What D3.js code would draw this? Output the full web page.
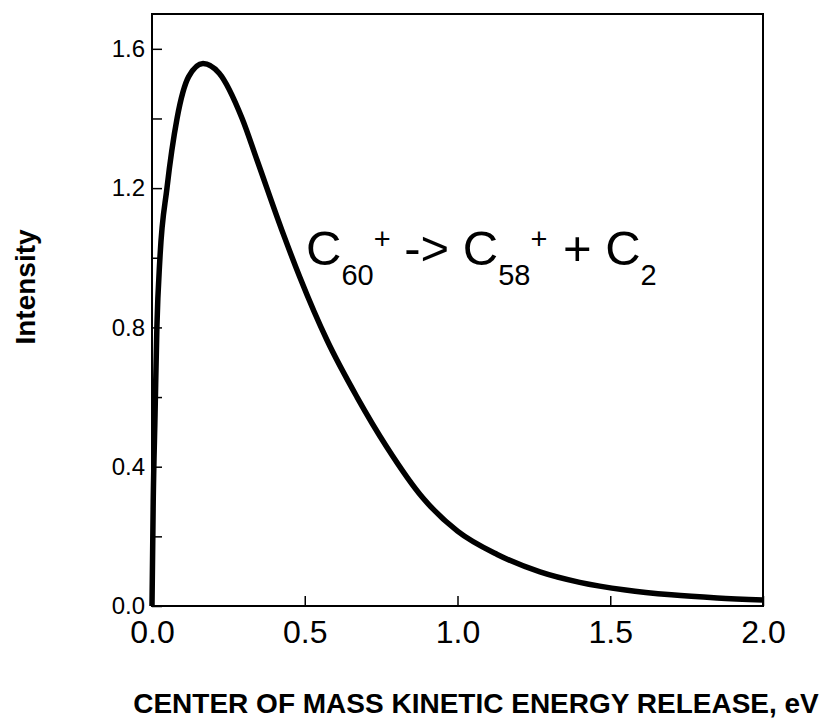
<!DOCTYPE html>
<html>
<head>
<meta charset="utf-8">
<script src="https://cdn.jsdelivr.net/npm/d3@7"></script>
<style>
    body { margin: 0; background: #fff; }
    text { font-family: "Liberation Sans", Arial, Helvetica, sans-serif; fill: #000; }
</style>
</head>
<body>
<div id="svg"></div>
<script>
// kinetic energy release (eV) and intensity
var energy = [0, 0.004, 0.010, 0.016, 0.026, 0.049, 0.082, 0.12, 0.167, 0.22, 0.295, 0.344, 0.429, 0.484,
              0.573, 0.671, 0.769, 0.887, 1.0, 1.13, 1.27, 1.4, 1.55, 1.7, 1.85, 2.0];
var intensity = [0, 0.30, 0.55, 0.80, 1.00, 1.20, 1.40, 1.52, 1.558, 1.53, 1.40, 1.28, 1.07, 0.944,
                 0.763, 0.60, 0.456, 0.31, 0.215, 0.148, 0.098, 0.068, 0.046, 0.032, 0.023, 0.017];

var xTicks = [0, 0.5, 1.0, 1.5, 2.0];
var yTicks = [0, 0.2, 0.4, 0.6, 0.8, 1.0, 1.2, 1.4, 1.6];
var yLabels = [0, 0.4, 0.8, 1.2, 1.6];

var margin = {top: 14, right: 72, bottom: 114, left: 152},
    width = 835 - margin.left - margin.right,
    height = 720 - margin.top - margin.bottom;

var svg = d3.select("#svg")
    .append("svg")
    .attr("width", 835)
    .attr("height", 720)
    .append("g")
    .attr("transform", "translate(" + margin.left + "," + margin.top + ")");

var x = d3.scaleLinear().domain([0, 2.0]).range([0, width]);
var y = d3.scaleLinear().domain([0, 1.7]).range([height, 0]);

// x axis, ticks pointing in
var xAxis = svg.append("g")
    .attr("transform", "translate(0," + height + ")")
    .call(d3.axisBottom(x).tickValues(xTicks).tickSizeInner(-10).tickSizeOuter(0).tickPadding(14)
        .tickFormat(d3.format(".1f")));
xAxis.select(".domain").remove();
xAxis.selectAll("line").attr("stroke", "#000").attr("stroke-width", 1.5);
xAxis.selectAll("text").style("font-size", "32px");

// y axis, minor ticks every 0.2, labels every 0.4
var yAxis = svg.append("g")
    .call(d3.axisLeft(y).tickValues(yTicks).tickSizeInner(-10).tickSizeOuter(0).tickPadding(7)
        .tickFormat(function(d) { return yLabels.indexOf(d) >= 0 ? d3.format(".1f")(d) : ""; }));
yAxis.select(".domain").remove();
yAxis.selectAll("line").attr("stroke", "#000").attr("stroke-width", 1.5);
yAxis.selectAll("text").style("font-size", "24px");

// frame
svg.append("rect")
    .attr("x", 0)
    .attr("y", 0)
    .attr("width", width)
    .attr("height", height)
    .attr("fill", "none")
    .attr("stroke", "#000")
    .attr("stroke-width", 2);

// curve
var line = d3.line()
    .x(function(d, i) { return x(energy[i]); })
    .y(function(d) { return y(d); })
    .curve(d3.curveMonotoneX);

svg.append("path")
    .datum(intensity)
    .attr("fill", "none")
    .attr("stroke", "#000")
    .attr("stroke-width", 5.5)
    .attr("stroke-linejoin", "round")
    .attr("d", line);

// reaction label
var lab = svg.append("text")
    .attr("x", 154)
    .attr("y", 251)
    .style("font-size", "49px");
lab.append("tspan").text("C");
lab.append("tspan").attr("dy", 20).style("font-size", "29px").text("60");
lab.append("tspan").attr("dy", -36).style("font-size", "29px").text("+");
lab.append("tspan").attr("dy", 16).text(" -> C");
lab.append("tspan").attr("dy", 20).style("font-size", "29px").text("58");
lab.append("tspan").attr("dy", -36).style("font-size", "29px").text("+");
lab.append("tspan").attr("dy", 16).attr("dx", 2).text(" + C");
lab.append("tspan").attr("dy", 20).style("font-size", "29px").text("2");

// axis titles
svg.append("text")
    .attr("x", 324)
    .attr("y", 713 - margin.top)
    .attr("text-anchor", "middle")
    .style("font-size", "28px")
    .style("font-weight", "bold")
    .text("CENTER OF MASS KINETIC ENERGY RELEASE, eV");

svg.append("text")
    .attr("transform", "translate(" + (35 - margin.left) + "," + (287 - margin.top) + ") rotate(-90)")
    .attr("text-anchor", "middle")
    .style("font-size", "28px")
    .style("font-weight", "bold")
    .text("Intensity");
</script>
</body>
</html>
